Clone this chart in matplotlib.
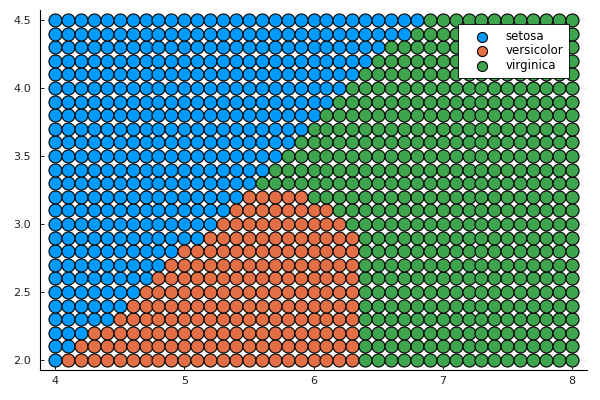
import numpy as np
import matplotlib
matplotlib.use("Agg")
import matplotlib.pyplot as plt

# Grid rows (sepal width) and columns (sepal length)
y_rows = [2.0, 2.1, 2.2, 2.3, 2.4, 2.5, 2.6, 2.7, 2.8, 2.9, 3.0, 3.1, 3.2,
          3.3, 3.4, 3.5, 3.6, 3.7, 3.8, 3.9, 4.0, 4.1, 4.2, 4.3, 4.4, 4.5]
x_cols = [round(4.0 + 0.1 * i, 1) for i in range(41)]

# Per row: last x predicted setosa, first x predicted virginica
setosa_last = [4.0, 4.1, 4.2, 4.4, 4.5, 4.6, 4.7, 4.8, 4.9, 5.1, 5.2, 5.3, 5.4,
               5.5, 5.6, 5.7, 5.8, 5.9, 6.0, 6.1, 6.2, 6.3, 6.4, 6.5, 6.7, 6.8]
virginica_first = [6.4, 6.4, 6.4, 6.4, 6.4, 6.4, 6.4, 6.4, 6.4, 6.4, 6.3, 6.2, 6.0,
                   5.6, 5.7, 5.8, 5.9, 6.0, 6.1, 6.2, 6.3, 6.4, 6.5, 6.6, 6.8, 6.9]

classes = ["setosa", "versicolor", "virginica"]
colors = {"setosa": "#009AFA", "versicolor": "#E26F46", "virginica": "#3EA44E"}

pts = {c: ([], []) for c in classes}
for y, sl, vf in zip(y_rows, setosa_last, virginica_first):
    for x in x_cols:
        if x <= sl + 1e-9:
            c = "setosa"
        elif x >= vf - 1e-9:
            c = "virginica"
        else:
            c = "versicolor"
        pts[c][0].append(x)
        pts[c][1].append(y)

fig = plt.figure(figsize=(6, 4), dpi=100)
ax = fig.add_axes([0.066, 0.0745, 0.913, 0.901])

for c in classes:
    ax.scatter(pts[c][0], pts[c][1], s=88, color=colors[c], edgecolors="black",
               linewidths=0.8, label=c, zorder=3)

ax.set_xlim(3.88, 8.12)
ax.set_ylim(1.925, 4.575)
ax.set_xticks([4, 5, 6, 7, 8])
ax.set_xticklabels(["4", "5", "6", "7", "8"])
ax.set_yticks([2.0, 2.5, 3.0, 3.5, 4.0, 4.5])
ax.set_yticklabels(["2.0", "2.5", "3.0", "3.5", "4.0", "4.5"])
ax.grid(True, color="black", alpha=0.1, linewidth=0.5, zorder=0)
for s in ["top", "right"]:
    ax.spines[s].set_visible(False)
for s in ["left", "bottom"]:
    ax.spines[s].set_linewidth(0.8)
ax.tick_params(direction="in", length=3, width=0.6, labelsize=8, colors="black",
               labelcolor="#222222")
ax.tick_params(axis="y", pad=6)
ax.tick_params(axis="x", pad=4.5)

leg = ax.legend(loc="upper right", bbox_to_anchor=(0.9668, 0.9606), fontsize=8.5,
                frameon=True, fancybox=False, edgecolor="black", framealpha=1,
                borderaxespad=0, handlelength=3.2, handletextpad=0.36,
                borderpad=0.5, labelspacing=0.12, markerscale=0.77,
                scatterpoints=1)
leg.get_frame().set_linewidth(0.6)

fig.savefig("out.png", dpi=100)
